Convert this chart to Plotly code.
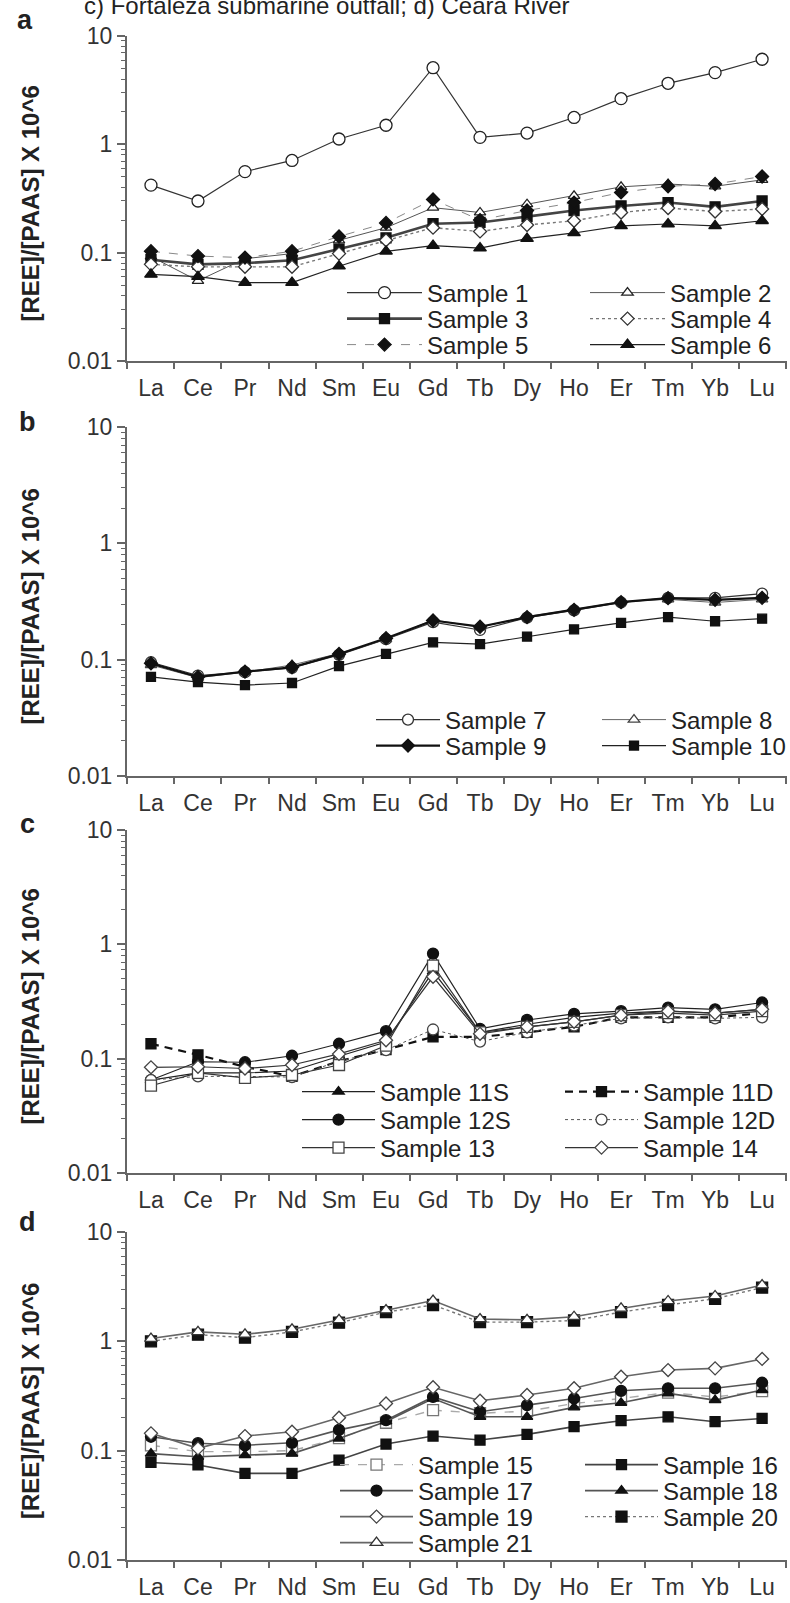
import plotly.graph_objects as go

W, H = 790, 1603

elements = ["La", "Ce", "Pr", "Nd", "Sm", "Eu", "Gd", "Tb", "Dy", "Ho", "Er", "Tm", "Yb", "Lu"]

# ---- panel a ----
s1 = [0.42, 0.30, 0.56, 0.71, 1.12, 1.50, 5.1, 1.16, 1.27, 1.77, 2.64, 3.66, 4.59, 6.1]
s2 = [0.092, 0.055, 0.088, 0.098, 0.13, 0.17, 0.26, 0.235, 0.28, 0.335, 0.405, 0.43, 0.41, 0.47]
s3 = [0.086, 0.078, 0.08, 0.085, 0.108, 0.137, 0.185, 0.19, 0.215, 0.245, 0.27, 0.29, 0.265, 0.30]
s4 = [0.078, 0.074, 0.074, 0.074, 0.098, 0.13, 0.17, 0.157, 0.18, 0.197, 0.235, 0.258, 0.24, 0.253]
s5 = [0.103, 0.093, 0.09, 0.103, 0.141, 0.188, 0.31, 0.20, 0.245, 0.29, 0.36, 0.41, 0.43, 0.505]
s6 = [0.063, 0.060, 0.053, 0.053, 0.075, 0.103, 0.116, 0.11, 0.135, 0.152, 0.177, 0.184, 0.177, 0.197]

# ---- panel b ----
s7 = [0.095, 0.073, 0.078, 0.085, 0.11, 0.15, 0.21, 0.18, 0.23, 0.265, 0.31, 0.34, 0.34, 0.37]
s8 = [0.09, 0.07, 0.078, 0.09, 0.113, 0.15, 0.22, 0.19, 0.235, 0.27, 0.315, 0.33, 0.31, 0.33]
s9 = [0.093, 0.071, 0.079, 0.086, 0.112, 0.153, 0.217, 0.192, 0.232, 0.268, 0.312, 0.338, 0.327, 0.34]
s10 = [0.071, 0.064, 0.0605, 0.063, 0.088, 0.112, 0.141, 0.136, 0.158, 0.182, 0.207, 0.232, 0.214, 0.225]

# ---- panel c ----
s11s = [0.065, 0.075, 0.075, 0.078, 0.105, 0.14, 0.58, 0.17, 0.20, 0.23, 0.25, 0.26, 0.25, 0.27]
s11d = [0.135, 0.108, 0.085, 0.07, 0.095, 0.12, 0.155, 0.155, 0.17, 0.19, 0.23, 0.23, 0.23, 0.25]
s12s = [0.065, 0.094, 0.093, 0.106, 0.135, 0.174, 0.83, 0.182, 0.218, 0.246, 0.26, 0.28, 0.27, 0.31]
s12d = [0.065, 0.07, 0.07, 0.069, 0.095, 0.119, 0.18, 0.141, 0.17, 0.195, 0.225, 0.23, 0.225, 0.23]
s13 = [0.058, 0.075, 0.068, 0.072, 0.088, 0.13, 0.65, 0.17, 0.19, 0.21, 0.24, 0.25, 0.24, 0.26]
s14 = [0.084, 0.085, 0.082, 0.088, 0.11, 0.145, 0.52, 0.165, 0.19, 0.21, 0.24, 0.26, 0.25, 0.27]

# ---- panel d ----
s15 = [0.112, 0.098, 0.098, 0.10, 0.13, 0.18, 0.235, 0.22, 0.23, 0.27, 0.30, 0.34, 0.31, 0.35]
s16 = [0.078, 0.074, 0.062, 0.062, 0.082, 0.115, 0.136, 0.125, 0.141, 0.166, 0.188, 0.204, 0.184, 0.197]
s17 = [0.134, 0.117, 0.112, 0.118, 0.155, 0.19, 0.31, 0.227, 0.261, 0.30, 0.353, 0.372, 0.372, 0.418]
s18 = [0.094, 0.088, 0.091, 0.094, 0.129, 0.185, 0.30, 0.204, 0.204, 0.249, 0.274, 0.334, 0.29, 0.359]
s19 = [0.144, 0.105, 0.136, 0.149, 0.20, 0.27, 0.38, 0.286, 0.323, 0.372, 0.474, 0.546, 0.566, 0.69]
s20 = [1.0, 1.15, 1.08, 1.22, 1.48, 1.85, 2.15, 1.5, 1.5, 1.55, 1.85, 2.15, 2.45, 3.1]
s21 = [1.06, 1.22, 1.16, 1.29, 1.57, 1.93, 2.36, 1.6, 1.57, 1.68, 2.0, 2.34, 2.6, 3.27]

y_ticks = [0.01, 0.1, 1, 10]
y_ticktext = ["0.01", "0.1", "1", "10"]
y_title = "[REE]/[PAAS] X 10^6"
panel_letters = ["a", "b", "c", "d"]
title_text = "c) Fortaleza submarine outfall; d) Ceará River"

FONT = "Arial, Liberation Sans, sans-serif"
AX = "#666666"

def py(px):
    return 1 - px / H

# panel pixel extents (top = value 10, bottom = value 0.01)
panel_px = [(36, 361), (427, 776), (830, 1173), (1232, 1560)]
x_dom = [127 / W, 787 / W]

fig = go.Figure()

# style: (name, data, panel, legend, symbol, msize, mfill, mline, lcolor, lwidth, dash)
series = [
    ("Sample 1", s1, 1, "legend", "circle", 12, "white", "#222", "#333", 1.2, "solid"),
    ("Sample 2", s2, 1, "legend", "triangle-up", 10, "white", "#222", "#555", 1.0, "solid"),
    ("Sample 3", s3, 1, "legend2", "square", 10, "#111", "#111", "#444", 2.6, "solid"),
    ("Sample 4", s4, 1, "legend2", "diamond", 10, "white", "#333", "#777", 1.4, "dot"),
    ("Sample 5", s5, 1, "legend3", "diamond", 10, "#111", "#111", "#888", 1.0, "dash"),
    ("Sample 6", s6, 1, "legend3", "triangle-up", 11, "#111", "#111", "#222", 1.2, "solid"),
    ("Sample 7", s7, 2, "legend4", "circle", 11, "white", "#333", "#333", 1.2, "solid"),
    ("Sample 8", s8, 2, "legend4", "triangle-up", 10, "white", "#444", "#666", 1.0, "solid"),
    ("Sample 9", s9, 2, "legend5", "diamond", 10, "#111", "#111", "#111", 2.2, "solid"),
    ("Sample 10", s10, 2, "legend5", "square", 9, "#111", "#111", "#222", 1.2, "solid"),
    ("Sample 11S", s11s, 3, "legend6", "triangle-up", 10, "#111", "#111", "#222", 1.2, "solid"),
    ("Sample 11D", s11d, 3, "legend6", "square", 10, "#111", "#111", "#111", 2.2, "8px,6px"),
    ("Sample 12S", s12s, 3, "legend7", "circle", 11, "#111", "#111", "#222", 1.2, "solid"),
    ("Sample 12D", s12d, 3, "legend7", "circle", 11, "white", "#444", "#555", 1.0, "dot"),
    ("Sample 13", s13, 3, "legend8", "square", 11, "white", "#444", "#333", 1.2, "solid"),
    ("Sample 14", s14, 3, "legend8", "diamond", 10, "white", "#444", "#333", 1.2, "solid"),
    ("Sample 15", s15, 4, "legend9", "square", 11, "white", "#777", "#aaaaaa", 1.4, "dash"),
    ("Sample 16", s16, 4, "legend9", "square", 10, "#111", "#111", "#444", 1.6, "solid"),
    ("Sample 17", s17, 4, "legend10", "circle", 11, "#111", "#111", "#555", 1.6, "solid"),
    ("Sample 18", s18, 4, "legend10", "triangle-up", 10, "#111", "#111", "#555", 1.6, "solid"),
    ("Sample 19", s19, 4, "legend11", "diamond", 10, "white", "#444", "#666", 1.6, "solid"),
    ("Sample 20", s20, 4, "legend11", "square", 11, "#111", "#111", "#777", 1.4, "dot"),
    ("Sample 21", s21, 4, "legend12", "triangle-up", 11, "white", "#333", "#666", 1.6, "solid"),
]

for name, vals, p, leg, sym, ms, mfill, mline, lcol, lw, dash in series:
    suffix = "" if p == 1 else str(p)
    fig.add_trace(go.Scatter(
        x=elements, y=vals, name=name, mode="lines+markers",
        xaxis="x" + suffix, yaxis="y" + suffix, legend=leg,
        line=dict(color=lcol, width=lw, dash=dash),
        marker=dict(symbol=sym, size=ms, color=mfill, line=dict(color=mline, width=1.3)),
        cliponaxis=False,
    ))

minor_vals = [m * d for d in (0.01, 0.1, 1) for m in range(2, 10)]

for i, (top, bot) in enumerate(panel_px):
    suffix = "" if i == 0 else str(i + 1)
    fig.layout["xaxis" + suffix] = dict(
        domain=x_dom, anchor="y" + suffix, type="category",
        categoryorder="array", categoryarray=elements,
        range=[-0.51, 13.53], showline=True, linecolor=AX, linewidth=2,
        ticks="outside", tickson="boundaries", ticklen=6, tickwidth=1.5, tickcolor=AX,
        tickangle=0, automargin=False, ticklabelstandoff=5,
        tickfont=dict(family=FONT, size=23, color="#333"),
        showgrid=False, zeroline=False, fixedrange=True,
    )
    fig.layout["yaxis" + suffix] = dict(
        domain=[py(bot), py(top)], anchor="x" + suffix, type="log",
        range=[-2, 1], tickmode="array", tickvals=y_ticks, ticktext=y_ticktext,
        showline=True, linecolor=AX, linewidth=2, automargin=False,
        ticks="outside", ticklen=8, tickwidth=1.5, tickcolor=AX,
        minor=dict(tickmode="array", tickvals=minor_vals, ticks="outside",
                   ticklen=4, tickwidth=1, tickcolor=AX, showgrid=False),
        tickfont=dict(family=FONT, size=23, color="#333"),
        showgrid=False, zeroline=False, fixedrange=True,
    )
    fig.add_annotation(text=y_title, xref="paper", yref="paper",
                       x=30 / W, y=py((top + bot) / 2 + 5), textangle=-90,
                       showarrow=False, xanchor="center", yanchor="middle",
                       font=dict(family=FONT, size=24, color="#222", weight="bold"))

letter_pos = [(25, 20), (27, 422), (27, 824), (27, 1222)]
for letter, (lx, ly) in zip(panel_letters, letter_pos):
    fig.add_annotation(text="<b>" + letter + "</b>", xref="paper", yref="paper",
                       x=lx / W, y=py(ly), showarrow=False,
                       xanchor="center", yanchor="middle",
                       font=dict(family=FONT, size=27, color="#222"))

fig.add_annotation(text=title_text, xref="paper", yref="paper",
                   x=327 / W, y=py(6), showarrow=False,
                   xanchor="center", yanchor="middle",
                   font=dict(family=FONT, size=24, color="#222"))

# legends: (name, left px, row center px, symbol width, entry spacing)
legend_rows = [
    ("legend", 342, 293, 75, 238),
    ("legend2", 342, 319, 75, 238),
    ("legend3", 342, 345, 75, 238),
    ("legend4", 371, 720, 64, 221),
    ("legend5", 371, 746, 64, 221),
    ("legend6", 297, 1092, 73, 258),
    ("legend7", 297, 1120, 73, 258),
    ("legend8", 297, 1148, 73, 258),
    ("legend9", 335, 1465, 73, 240),
    ("legend10", 335, 1491, 73, 240),
    ("legend11", 335, 1517, 73, 240),
    ("legend12", 335, 1543, 73, 240),
]
for lname, lx, ly, iw, spacing in legend_rows:
    fig.layout[lname] = dict(
        x=lx / W, y=py(ly), xanchor="left", yanchor="middle",
        orientation="h", itemwidth=iw, entrywidth=spacing - iw - 10,
        entrywidthmode="pixels", bgcolor="rgba(0,0,0,0)", borderwidth=0,
        font=dict(family=FONT, size=24, color="#222"),
        itemclick=False, itemdoubleclick=False,
    )

fig.update_layout(
    width=W, height=H, margin=dict(l=0, r=0, t=0, b=0, pad=0, autoexpand=False),
    paper_bgcolor="white", plot_bgcolor="white", showlegend=True,
)

fig.write_html("out.html")
